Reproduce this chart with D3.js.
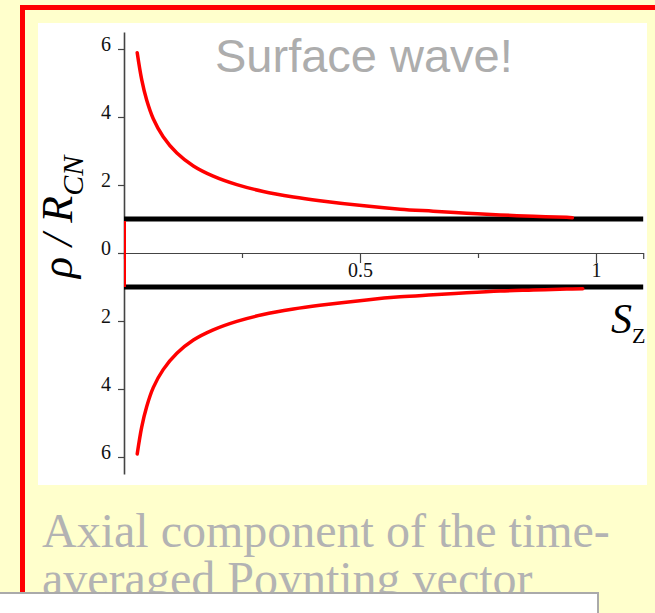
<!DOCTYPE html>
<html><head><meta charset="utf-8">
<script src="https://cdn.jsdelivr.net/npm/d3@7"></script>
<style>html,body{margin:0;padding:0;background:#FFFFCC;overflow:hidden}svg{display:block}</style>
</head><body>
<svg id="c" width="655" height="613"></svg>
<script>
// ---- data ----
const upperS   = [0.028, 0.0375, 0.048, 0.062, 0.083, 0.112, 0.147, 0.189, 0.239, 0.295, 0.359, 0.415, 0.514, 0.585, 0.655, 0.726, 0.797, 0.867, 0.938, 0.950];
const upperRho = [5.89, 5.10, 4.50, 3.95, 3.42, 2.94, 2.56, 2.26, 2.01, 1.81, 1.65, 1.54, 1.38, 1.29, 1.23, 1.17, 1.12, 1.08, 1.05, 1.04];
const lowerS   = [0.028, 0.0375, 0.048, 0.062, 0.083, 0.112, 0.147, 0.189, 0.239, 0.295, 0.359, 0.415, 0.514, 0.585, 0.655, 0.726, 0.797, 0.867, 0.938, 0.972];
const lowerRho = [-5.91, -5.12, -4.52, -3.96, -3.43, -2.95, -2.56, -2.26, -2.01, -1.81, -1.65, -1.54, -1.38, -1.29, -1.23, -1.17, -1.12, -1.09, -1.06, -1.05];
const boundaryRho = [1, -1];
const yTickValues = [6, 4, 2, 0, -2, -4, -6];
const yTickLabels = ["6", "4", "2", "0", "2", "4", "6"];
const xTickValues = [0.25, 0.5, 0.75, 1];
const xTickLabels = ["", "0.5", "", "1"];
const xDomain = [0, 1.1];
const yDomain = [-6.5, 6.5];
const titleText = "Surface wave!";
const captionLines = ["Axial component of the time-", "averaged Poynting vector"];

// ---- drawing ----
const svg = d3.select("#c");
const serif = "'Liberation Serif','Times New Roman',serif";
const sans = "'Liberation Sans',Arial,sans-serif";

// frame
svg.append("rect").attr("x", 22.5).attr("y", 7.5).attr("width", 800).attr("height", 800)
  .attr("fill", "none").attr("stroke", "#ff0000").attr("stroke-width", 5);
svg.append("rect").attr("x", 38).attr("y", 23).attr("width", 609).attr("height", 462).attr("fill", "#ffffff");

const x = d3.scaleLinear().domain(xDomain).range([124, 643.2]);
const y = d3.scaleLinear().domain(yDomain).range([474, 32]);

// y axis
const yAxis = d3.axisLeft(y).tickValues(yTickValues)
  .tickFormat((d, i) => yTickLabels[i]).tickSize(6).tickSizeOuter(0).tickPadding(7);
const gy = svg.append("g").attr("transform", `translate(${x(0)},0)`).call(yAxis);
gy.select(".domain").attr("stroke", "#444").attr("stroke-width", 1.6);
gy.selectAll(".tick line").attr("stroke", "#444").attr("stroke-width", 1.2);
gy.selectAll(".tick text").attr("font-family", serif).attr("font-size", 20)
  .attr("fill", "#111").attr("dy", 1);

// x axis at rho = 0
const xAxis = d3.axisBottom(x).tickValues(xTickValues)
  .tickFormat((d, i) => xTickLabels[i]).tickSizeOuter(0).tickSize(6);
const gx = svg.append("g").attr("transform", `translate(0,${y(0)})`).call(xAxis);
gx.select(".domain").attr("stroke", "#444").attr("stroke-width", 1.2);
gx.selectAll(".tick line").attr("stroke", "#444").attr("stroke-width", 1.2)
  .attr("y2", (d, i) => xTickLabels[i] ? 10 : 5);
gx.selectAll(".tick text").attr("font-family", serif).attr("font-size", 20)
  .attr("fill", "#111").attr("y", 24).attr("dy", 0);

// boundary lines rho = +-1
svg.append("g").selectAll("line").data(boundaryRho).join("line")
  .attr("x1", x(0)).attr("x2", x(xDomain[1]))
  .attr("y1", d => y(d)).attr("y2", d => y(d))
  .attr("stroke", "#000").attr("stroke-width", 5);

// red segment on axis between -1 and 1
svg.append("line").attr("x1", x(0) + 1).attr("x2", x(0) + 1)
  .attr("y1", y(boundaryRho[0]) + 2).attr("y2", y(boundaryRho[1]))
  .attr("stroke", "#ff0000").attr("stroke-width", 2);

// curves
const line = d3.line().x(d => x(d[0])).y(d => y(d[1])).curve(d3.curveCatmullRom.alpha(0.5));
const upper = upperS.map((s, i) => [s, upperRho[i]]);
const lower = lowerS.map((s, i) => [s, lowerRho[i]]);
svg.append("path").datum(upper).attr("d", line).attr("fill", "none")
  .attr("stroke", "#ff0000").attr("stroke-width", 3.5).attr("stroke-linecap", "round");
svg.append("path").datum(lower).attr("d", line).attr("fill", "none")
  .attr("stroke", "#ff0000").attr("stroke-width", 3.5).attr("stroke-linecap", "round");

// y label
const yl = svg.append("text").attr("transform", "translate(72,278) rotate(-90)")
  .attr("font-family", serif).attr("font-style", "italic").attr("font-size", 44).attr("fill", "#000");
yl.append("tspan").text("\u03C1 / R");
yl.append("tspan").attr("dy", 11).attr("font-size", 30).text("CN");

// x label S_Z
const xl = svg.append("text").attr("x", 611).attr("y", 333)
  .attr("font-family", serif).attr("fill", "#000");
xl.append("tspan").attr("font-style", "italic").attr("font-size", 42).text("S");
xl.append("tspan").attr("dy", 10).attr("font-size", 22).text("Z");

// title
svg.append("text").attr("x", 215).attr("y", 72).attr("font-family", sans)
  .attr("font-size", 47).attr("fill", "#adadad").text(titleText);

// caption
svg.append("g").selectAll("text").data(captionLines).join("text")
  .attr("x", 42).attr("y", (d, i) => 547 + i * 48)
  .attr("font-family", serif).attr("font-size", 48).attr("fill", "#b3b3b3").text(d => d);

// bottom box
svg.append("rect").attr("x", -2).attr("y", 593).attr("width", 600).attr("height", 40)
  .attr("fill", "#ffffff").attr("stroke", "#aaaaaa").attr("stroke-width", 2);
</script>
</body></html>
